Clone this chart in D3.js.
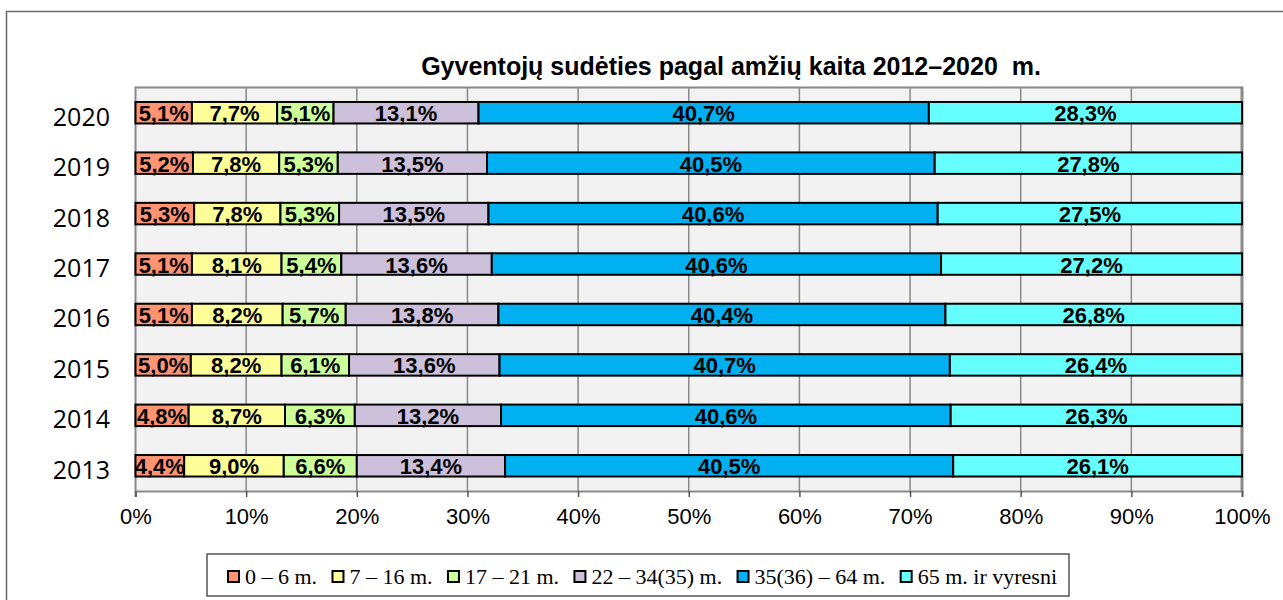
<!DOCTYPE html>
<html>
  <head>
    <meta charset='utf-8'>
    <script src='https://cdn.jsdelivr.net/npm/d3@7'></script>
    <title>Gyventojų sudėtis</title>
    <style>
body {
  margin: 0;
  background: #fff;
}
svg text {
  white-space: pre;
}
    </style>
  </head>
  <body>
    <div id='chart'></div>
    <script>
        const years = ['2020', '2019', '2018', '2017', '2016', '2015', '2014', '2013'];
        const groups = ['0 – 6 m.', '7 – 16 m.', '17 – 21 m.', '22 – 34(35) m.', '35(36) – 64 m.', '65 m. ir vyresni'];
        const age0_6   = [5.1, 5.2, 5.3, 5.1, 5.1, 5.0, 4.8, 4.4];
        const age7_16  = [7.7, 7.8, 7.8, 8.1, 8.2, 8.2, 8.7, 9.0];
        const age17_21 = [5.1, 5.3, 5.3, 5.4, 5.7, 6.1, 6.3, 6.6];
        const age22_34 = [13.1, 13.5, 13.5, 13.6, 13.8, 13.6, 13.2, 13.4];
        const age35_64 = [40.7, 40.5, 40.6, 40.6, 40.4, 40.7, 40.6, 40.5];
        const age65    = [28.3, 27.8, 27.5, 27.2, 26.8, 26.4, 26.3, 26.1];
        const xTicks = [0, 0.1, 0.2, 0.3, 0.4, 0.5, 0.6, 0.7, 0.8, 0.9, 1];
        const colors = ['#ff9473', '#ffff99', '#ccff99', '#ccc0da', '#00b0f0', '#66ffff'];

        const series = [age0_6, age7_16, age17_21, age22_34, age35_64, age65];
        const rows = years.map(function(y, i) {
            var r = { year: y };
            groups.forEach(function(g, j) { r[g] = series[j][i]; });
            return r;
        });

        const width = 1283, height = 600;
        const plot = { left: 135.5, right: 1242, top: 87.5, bottom: 491 };

        const lt = d3.formatLocale({ decimal: ',', thousands: ' ', grouping: [3], currency: ['', ''] });
        const fmt = lt.format('.1f');

        var svg = d3.select('#chart').append('svg')
            .attr('width', width)
            .attr('height', height);

        // outer frame (runs past the right and bottom edges)
        svg.append('rect')
            .attr('x', 6.5).attr('y', 11.5)
            .attr('width', 1400).attr('height', 800)
            .style('fill', 'none')
            .style('stroke', '#6a6a6a')
            .style('stroke-width', 1.5);

        const xScale = d3.scaleLinear()
            .domain([0, 1])
            .range([plot.left, plot.right]);

        const yScale = d3.scaleBand()
            .domain(years)
            .range([plot.top, plot.bottom])
            .paddingInner(0.574)
            .paddingOuter(0.287);

        // plot background
        svg.append('rect')
            .attr('x', plot.left).attr('y', plot.top)
            .attr('width', plot.right - plot.left)
            .attr('height', plot.bottom - plot.top)
            .style('fill', '#f2f2f2');

        // gridlines
        svg.append('g').selectAll('line')
            .data(xTicks.slice(1, -1))
            .join('line')
            .attr('x1', function(d) { return xScale(d); })
            .attr('x2', function(d) { return xScale(d); })
            .attr('y1', plot.top).attr('y2', plot.bottom)
            .style('stroke', '#8a8a8a')
            .style('stroke-width', 1.5);

        // plot border
        svg.append('line')
            .attr('x1', plot.left).attr('x2', plot.right)
            .attr('y1', plot.top).attr('y2', plot.top)
            .style('stroke', '#8a8a8a').style('stroke-width', 2);
        svg.append('line')
            .attr('x1', plot.right).attr('x2', plot.right)
            .attr('y1', plot.top - 1).attr('y2', plot.bottom)
            .style('stroke', '#8a8a8a').style('stroke-width', 3);
        svg.append('line')
            .attr('x1', plot.left).attr('x2', plot.left)
            .attr('y1', plot.top - 1).attr('y2', plot.bottom + 6)
            .style('stroke', '#8a8a8a').style('stroke-width', 2);

        // x axis
        var xAxis = svg.append('g')
            .attr('transform', 'translate(0,' + plot.bottom + ')')
            .call(d3.axisBottom(xScale)
                .tickValues(xTicks)
                .tickSize(6)
                .tickPadding(11)
                .tickFormat(d3.format('.0%')));
        xAxis.select('.domain')
            .attr('stroke', '#8a8a8a')
            .attr('stroke-width', 2);
        xAxis.selectAll('.tick line')
            .attr('stroke', '#555')
            .attr('stroke-width', 1.5);
        xAxis.selectAll('.tick text')
            .style('font-family', "'Liberation Sans', Arial, sans-serif")
            .style('font-size', '22px')
            .attr('fill', '#000');

        // year labels
        svg.append('g').selectAll('text')
            .data(years)
            .join('text')
            .attr('x', 110)
            .attr('y', function(d) { return yScale(d) + yScale.bandwidth() / 2 + 13; })
            .attr('text-anchor', 'end')
            .style('font-family', "'Open Sans', sans-serif")
            .style('font-size', '25px')
            .text(function(d) { return d; });

        // stacked bars
        const stack = d3.stack()
            .keys(groups)
            .offset(d3.stackOffsetExpand);
        const layers = stack(rows);

        var layer = svg.append('g').selectAll('g')
            .data(layers)
            .join('g')
            .style('fill', function(d, i) { return colors[i]; });

        layer.selectAll('rect')
            .data(function(d) { return d; })
            .join('rect')
            .attr('x', function(d) { return xScale(d[0]); })
            .attr('y', function(d) { return yScale(d.data.year); })
            .attr('width', function(d) { return xScale(d[1]) - xScale(d[0]); })
            .attr('height', yScale.bandwidth())
            .style('stroke', '#000')
            .style('stroke-width', 2);

        layer.selectAll('text')
            .data(function(d) { return d.map(function(p) { p.key = d.key; return p; }); })
            .join('text')
            .attr('x', function(d) { return xScale((d[0] + d[1]) / 2); })
            .attr('y', function(d) { return yScale(d.data.year) + yScale.bandwidth() / 2 + 8.5; })
            .attr('text-anchor', 'middle')
            .style('fill', '#000')
            .style('font-family', "'Liberation Sans', Arial, sans-serif")
            .style('font-weight', 'bold')
            .style('font-size', '22px')
            .text(function(d) { return fmt(d.data[d.key]) + '%'; });

        // title
        svg.append('text')
            .attr('x', 731)
            .attr('y', 75)
            .attr('text-anchor', 'middle')
            .style('font-family', "'Liberation Sans', Arial, sans-serif")
            .style('font-weight', 'bold')
            .style('font-size', '25px')
            .text('Gyventojų sudėties pagal amžių kaita 2012–2020  m.');

        // legend
        var legend = svg.append('g');
        legend.append('rect')
            .attr('x', 207).attr('y', 554)
            .attr('width', 862).attr('height', 42)
            .style('fill', '#fff')
            .style('stroke', '#555')
            .style('stroke-width', 1.5);

        var items = groups.map(function(g, i) {
            var t = legend.append('text')
                .attr('y', 584)
                .style('font-family', "'Liberation Serif', 'Times New Roman', serif")
                .style('font-size', '22px')
                .text(g);
            return { text: t, w: t.node().getComputedTextLength(), color: colors[i] };
        });
        var used = d3.sum(items, function(d) { return 18 + d.w; });
        var gap = (1057 - 227 - used) / (items.length - 1);
        var lx = 227;
        items.forEach(function(it) {
            legend.append('rect')
                .attr('x', lx + 1).attr('y', 571)
                .attr('width', 11).attr('height', 11)
                .style('fill', it.color)
                .style('stroke', '#000')
                .style('stroke-width', 2);
            it.text.attr('x', lx + 18);
            lx += 18 + it.w + gap;
        });
    </script>
  </body>
</html>
